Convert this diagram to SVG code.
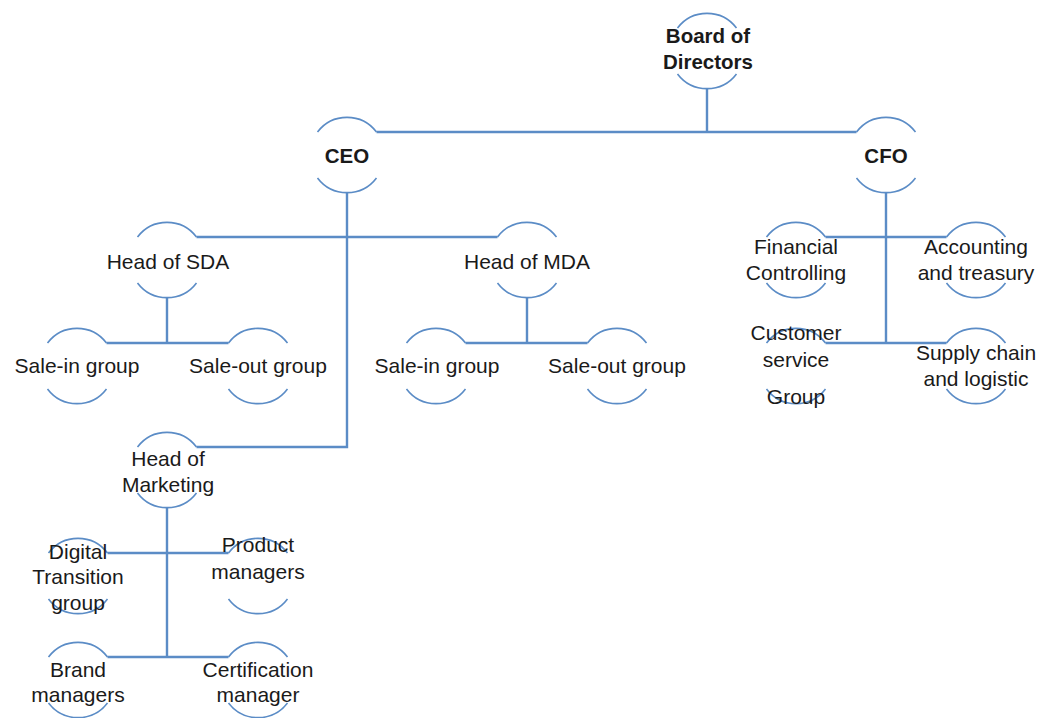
<svg xmlns="http://www.w3.org/2000/svg" width="1041" height="718" viewBox="0 0 1041 718">
  <style>
    .arc { fill: none; stroke: #5B8CC6; stroke-width: 1.6; }
    .link { fill: none; stroke: #5B8CC6; stroke-width: 2.4; }
    text { font-family: "Liberation Sans", Arial, sans-serif; font-size: 21px; fill: #1a1a1a; text-anchor: middle; }
    .b { font-weight: bold; font-size: 20.5px; }
  </style>
  <defs>
    <!-- top and bottom arcs of a r=37 circle, centred on the origin -->
    <path id="ring" d="M -29.5 -23 A 37 37 0 0 1 29.5 -23 M -29.5 23 A 37 37 0 0 0 29.5 23"/>
  </defs>
  <rect width="1041" height="718" fill="#ffffff"/>

  <g id="connectors" class="link">
    <path d="M 707 88 V 132 M 376.5 132 H 856.5"/>
    <path d="M 347 192 V 447 H 196.5"/>
    <path d="M 196.5 237 H 497.5"/>
    <path d="M 167 297 V 343 M 106.5 343 H 228.5"/>
    <path d="M 527 297 V 343 M 465.5 343 H 587.5"/>
    <path d="M 886 192 V 343 M 825.5 237 H 946.5 M 825.5 343 H 946.5"/>
    <path d="M 167 507 V 657 M 107.5 553 H 228.5 M 107.5 657 H 228.5"/>
  </g>

  <g id="board">
    <use href="#ring" class="arc" x="707" y="51"/>
    <text class="b" x="708" y="43">Board of</text>
    <text class="b" x="708" y="69">Directors</text>
  </g>
  <g id="ceo">
    <use href="#ring" class="arc" x="347" y="155"/>
    <text class="b" x="347" y="163">CEO</text>
  </g>
  <g id="cfo">
    <use href="#ring" class="arc" x="886" y="155"/>
    <text class="b" x="886" y="163">CFO</text>
  </g>
  <g id="head-sda">
    <use href="#ring" class="arc" x="167" y="260"/>
    <text x="168" y="269">Head of SDA</text>
  </g>
  <g id="head-mda">
    <use href="#ring" class="arc" x="527" y="260"/>
    <text x="527" y="269">Head of MDA</text>
  </g>
  <g id="sda-sale-in">
    <use href="#ring" class="arc" x="77" y="366"/>
    <text x="77" y="373">Sale-in group</text>
  </g>
  <g id="sda-sale-out">
    <use href="#ring" class="arc" x="258" y="366"/>
    <text x="258" y="373">Sale-out group</text>
  </g>
  <g id="mda-sale-in">
    <use href="#ring" class="arc" x="436" y="366"/>
    <text x="437" y="373">Sale-in group</text>
  </g>
  <g id="mda-sale-out">
    <use href="#ring" class="arc" x="617" y="366"/>
    <text x="617" y="373">Sale-out group</text>
  </g>
  <g id="financial-controlling">
    <use href="#ring" class="arc" x="796" y="260"/>
    <text x="796" y="254">Financial</text>
    <text x="796" y="280">Controlling</text>
  </g>
  <g id="accounting">
    <use href="#ring" class="arc" x="976" y="260"/>
    <text x="976" y="254">Accounting</text>
    <text x="976" y="280">and treasury</text>
  </g>
  <g id="customer-service">
    <use href="#ring" class="arc" x="796" y="366"/>
    <text x="796" y="340">Customer</text>
    <text x="796" y="367">service</text>
    <text x="796" y="404">Group</text>
  </g>
  <g id="supply-chain">
    <use href="#ring" class="arc" x="976" y="366"/>
    <text x="976" y="360">Supply chain</text>
    <text x="976" y="386">and logistic</text>
  </g>
  <g id="head-marketing">
    <use href="#ring" class="arc" x="167" y="470"/>
    <text x="168" y="466">Head of</text>
    <text x="168" y="492">Marketing</text>
  </g>
  <g id="digital-transition">
    <use href="#ring" class="arc" x="78" y="576"/>
    <text x="78" y="559">Digital</text>
    <text x="78" y="584">Transition</text>
    <text x="78" y="610">group</text>
  </g>
  <g id="product-managers">
    <use href="#ring" class="arc" x="258" y="576"/>
    <text x="258" y="552">Product</text>
    <text x="258" y="579">managers</text>
  </g>
  <g id="brand-managers">
    <use href="#ring" class="arc" x="78" y="680"/>
    <text x="78" y="677">Brand</text>
    <text x="78" y="702">managers</text>
  </g>
  <g id="certification-manager">
    <use href="#ring" class="arc" x="258" y="680"/>
    <text x="258" y="677">Certification</text>
    <text x="258" y="702">manager</text>
  </g>
</svg>
